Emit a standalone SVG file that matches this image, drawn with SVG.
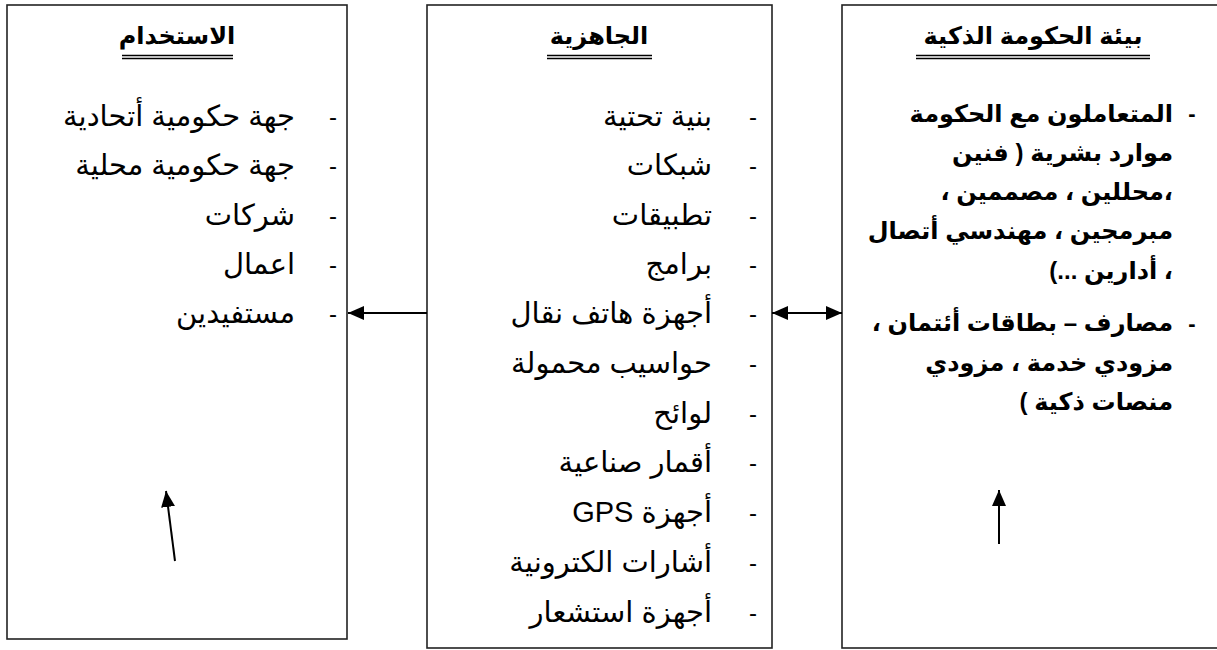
<svg xmlns="http://www.w3.org/2000/svg" width="1217" height="650" viewBox="0 0 1217 650">
<style>
.box{fill:#fff;stroke:#222;stroke-width:1.6}
.t{font-family:"Liberation Sans","DejaVu Sans",sans-serif;fill:#000}
.ttl{font-size:24px;font-weight:bold;text-anchor:middle;direction:rtl}
.li{font-size:29px;direction:rtl;text-anchor:start}
.lb{font-size:24px;font-weight:bold;direction:rtl;text-anchor:start}
.d{font-size:24px;text-anchor:middle}
.db{font-size:22px;font-weight:bold;text-anchor:middle}
.ul{stroke:#000;stroke-width:1.3}
.c{stroke:#000;stroke-width:2;fill:none}
</style>
<defs>
<marker id="ah" markerUnits="userSpaceOnUse" markerWidth="16" markerHeight="14" viewBox="0 0 16 14" refX="16" refY="7" orient="auto-start-reverse">
<path d="M0,0 L16,7 L0,14 z" fill="#000"/>
</marker>
</defs>
<rect width="1217" height="650" fill="#fff"/>

<g id="node-usage">
<rect class="box" x="7" y="5" width="340" height="634"/>
<text class="t ttl" x="177" y="44">الاستخدام</text>
<line class="ul" x1="122" y1="55.5" x2="233" y2="55.5"/>
<line class="ul" x1="122" y1="58.5" x2="233" y2="58.5"/>
<text class="t d" x="333" y="125">-</text>
<text class="t li" x="295" y="126">جهة حكومية أتحادية</text>
<text class="t d" x="333" y="174">-</text>
<text class="t li" x="295" y="175">جهة حكومية محلية</text>
<text class="t d" x="333" y="224">-</text>
<text class="t li" x="295" y="225">شركات</text>
<text class="t d" x="333" y="273">-</text>
<text class="t li" x="295" y="274">اعمال</text>
<text class="t d" x="333" y="322">-</text>
<text class="t li" x="295" y="323">مستفيدين</text>
</g>

<g id="node-readiness">
<rect class="box" x="427" y="5" width="345" height="643"/>
<text class="t ttl" x="599" y="44">الجاهزية</text>
<line class="ul" x1="547" y1="55.5" x2="652" y2="55.5"/>
<line class="ul" x1="547" y1="58.5" x2="652" y2="58.5"/>
<text class="t d" x="753" y="125">-</text>
<text class="t li" x="712" y="126">بنية تحتية</text>
<text class="t d" x="753" y="174">-</text>
<text class="t li" x="712" y="175">شبكات</text>
<text class="t d" x="753" y="224">-</text>
<text class="t li" x="712" y="225">تطبيقات</text>
<text class="t d" x="753" y="273">-</text>
<text class="t li" x="712" y="274">برامج</text>
<text class="t d" x="753" y="322">-</text>
<text class="t li" x="712" y="323">أجهزة هاتف نقال</text>
<text class="t d" x="753" y="372">-</text>
<text class="t li" x="712" y="373">حواسيب محمولة</text>
<text class="t d" x="753" y="422">-</text>
<text class="t li" x="712" y="423">لوائح</text>
<text class="t d" x="753" y="471">-</text>
<text class="t li" x="712" y="472">أقمار صناعية</text>
<text class="t d" x="753" y="521">-</text>
<text class="t li" x="712" y="522">أجهزة GPS</text>
<text class="t d" x="753" y="571">-</text>
<text class="t li" x="712" y="572">أشارات الكترونية</text>
<text class="t d" x="753" y="621">-</text>
<text class="t li" x="712" y="622">أجهزة استشعار</text>
</g>

<g id="node-environment">
<rect class="box" x="842" y="5" width="400" height="643"/>
<text class="t ttl" x="1033" y="44">بيئة الحكومة الذكية</text>
<line class="ul" x1="916" y1="55.5" x2="1150" y2="55.5"/>
<line class="ul" x1="916" y1="58.5" x2="1150" y2="58.5"/>
<text class="t db" x="1192" y="121">-</text>
<text class="t lb" x="1173" y="122">المتعاملون مع الحكومة</text>
<text class="t lb" x="1173" y="161">موارد بشرية ( فنين</text>
<text class="t lb" x="1173" y="200">،محللين ، مصممين ،</text>
<text class="t lb" x="1173" y="239">مبرمجين ، مهندسي أتصال</text>
<text class="t lb" x="1173" y="279">، أدارين ...)</text>
<text class="t db" x="1192" y="331">-</text>
<text class="t lb" x="1173" y="331">مصارف – بطاقات أئتمان ،</text>
<text class="t lb" x="1173" y="371">مزودي خدمة ، مزودي</text>
<text class="t lb" x="1173" y="410">منصات ذكية )</text>
</g>

<g id="connectors">
<line class="c" x1="427" y1="313" x2="348" y2="313" marker-end="url(#ah)"/>
<line class="c" x1="772" y1="313" x2="842" y2="313" marker-start="url(#ah)" marker-end="url(#ah)"/>
<line class="c" x1="175" y1="561" x2="166" y2="491" marker-end="url(#ah)"/>
<line class="c" x1="999" y1="544" x2="999" y2="490" marker-end="url(#ah)"/>
</g>
</svg>
